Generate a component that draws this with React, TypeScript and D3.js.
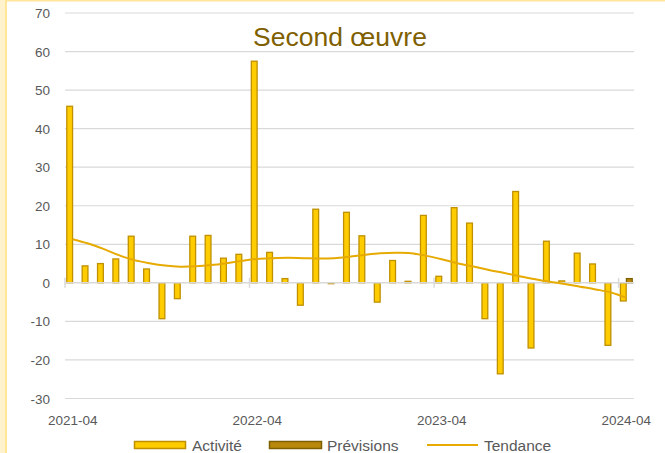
import React, { useRef, useEffect } from "react";
import * as d3 from "d3";

const months = [
  "2021-04", "2021-05", "2021-06", "2021-07", "2021-08", "2021-09", "2021-10", "2021-11", "2021-12",
  "2022-01", "2022-02", "2022-03", "2022-04", "2022-05", "2022-06", "2022-07", "2022-08", "2022-09",
  "2022-10", "2022-11", "2022-12", "2023-01", "2023-02", "2023-03", "2023-04", "2023-05", "2023-06",
  "2023-07", "2023-08", "2023-09", "2023-10", "2023-11", "2023-12", "2024-01", "2024-02", "2024-03",
  "2024-04",
];

// monthly activity (%)
const activite = [
  45.8, 4.4, 5.0, 6.2, 12.1, 3.6, -9.3, -4.1, 12.1, 12.3, 6.4, 7.4,
  57.5, 7.9, 1.1, -5.8, 19.1, -0.2, 18.3, 12.2, -5.0, 5.8, 0.4, 17.5,
  1.7, 19.5, 15.5, -9.3, -23.6, 23.7, -16.9, 10.8, 0.5, 7.7, 4.9, -16.2,
  -4.7,
];

// only the last month has a forecast
const previsions: (number | null)[] = months.map((_, i) => (i === 36 ? 1.1 : null));

const tendance = [
  11.3, 10.2, 8.8, 7.2, 5.9, 5.1, 4.5, 4.2, 4.3, 4.6, 5.1, 5.7,
  6.2, 6.4, 6.5, 6.4, 6.3, 6.4, 6.8, 7.3, 7.7, 7.8, 7.7, 7.0,
  6.1, 5.1, 4.3, 3.4, 2.6, 1.8, 1.0, 0.3, -0.3, -1.0, -1.7, -2.5,
  -3.9,
];

const yTicks = [-30, -20, -10, 0, 10, 20, 30, 40, 50, 60, 70];
const xLabels = ["2021-04", "2022-04", "2023-04", "2024-04"];

const W = 665;
const H = 453;
const font = "'Liberation Sans', Arial, sans-serif";

const App = () => {
  const svgRef = useRef<SVGSVGElement>(null);

  useEffect(() => {
    const svg = d3.select(svgRef.current);
    svg.selectAll("*").remove();

    const left = 65, right = 634, top = 13, bottom = 398.5;

    const x = d3.scaleBand().domain(months).range([left, right]).padding(0);
    const sub = d3
      .scaleBand()
      .domain(["a", "p"])
      .range([x.bandwidth() * 0.1, x.bandwidth() * 0.9])
      .padding(0.04);
    const y = d3.scaleLinear().domain([-30, 70]).range([bottom, top]);

    // frame
    svg.append("rect").attr("x", 0).attr("y", 0).attr("width", W).attr("height", H).attr("fill", "#fff");
    svg.append("rect").attr("x", 0).attr("y", 0).attr("width", 6).attr("height", H).attr("fill", "#FFF2CC");
    svg.append("line").attr("x1", 6).attr("x2", 6).attr("y1", 0).attr("y2", H)
      .attr("stroke", "#FFE699").attr("stroke-width", 2);
    svg.append("line").attr("x1", 6).attr("x2", W).attr("y1", 0.5).attr("y2", 0.5)
      .attr("stroke", "#FFE699").attr("stroke-width", 2);

    // gridlines + y labels
    const grid = svg.append("g");
    grid.selectAll("line").data(yTicks.filter((d) => d !== 0)).join("line")
      .attr("x1", left).attr("x2", right)
      .attr("y1", (d) => y(d)).attr("y2", (d) => y(d))
      .attr("stroke", "#D9D9D9").attr("stroke-width", 1.2);
    svg.append("g").selectAll("text").data(yTicks).join("text")
      .attr("x", 50).attr("y", (d) => y(d) + 5)
      .attr("text-anchor", "end")
      .attr("font-family", font).attr("font-size", 13.5).attr("fill", "#595959")
      .text((d) => d);

    // title
    svg.append("text").attr("x", 340).attr("y", 46)
      .attr("text-anchor", "middle").attr("font-family", font).attr("font-size", 26.5)
      .attr("fill", "#7F6000").text("Second œuvre");

    // bars
    const bars = svg.append("g");
    bars.selectAll("rect.a").data(activite).join("rect")
      .attr("class", "a")
      .attr("x", (_, i) => (x(months[i]) as number) + (sub("a") as number))
      .attr("width", sub.bandwidth())
      .attr("y", (d) => y(Math.max(0, d)))
      .attr("height", (d) => Math.max(0.8, Math.abs(y(d) - y(0))))
      .attr("fill", "#FFCC00").attr("stroke", "#BF9000").attr("stroke-width", 1.3);
    bars.selectAll("rect.p").data(previsions.map((v, i) => ({ v, i })).filter((d) => d.v !== null)).join("rect")
      .attr("class", "p")
      .attr("x", (d) => (x(months[d.i]) as number) + (sub("p") as number))
      .attr("width", sub.bandwidth())
      .attr("y", (d) => y(Math.max(0, d.v as number)))
      .attr("height", (d) => Math.abs(y(d.v as number) - y(0)))
      .attr("fill", "#B8890A").attr("stroke", "#7F6000").attr("stroke-width", 1.3);

    // zero axis with cross ticks
    svg.append("line").attr("x1", left).attr("x2", right).attr("y1", y(0)).attr("y2", y(0))
      .attr("stroke", "#D9D9D9").attr("stroke-width", 1.5);
    svg.append("g").selectAll("line").data(xLabels).join("line")
      .attr("x1", (d) => x(d) as number).attr("x2", (d) => x(d) as number)
      .attr("y1", y(0) - 5).attr("y2", y(0) + 5)
      .attr("stroke", "#D9D9D9").attr("stroke-width", 1.5);

    // trend
    const trend = d3.line<number>()
      .x((_, i) => (x(months[i]) as number) + x.bandwidth() / 2)
      .y((d) => y(d))
      .curve(d3.curveCatmullRom);
    svg.append("path").datum(tendance).attr("d", trend)
      .attr("fill", "none").attr("stroke", "#E6AA00").attr("stroke-width", 2);

    // x labels
    svg.append("g").selectAll("text").data(xLabels).join("text")
      .attr("x", (d) => (x(d) as number) + x.bandwidth() / 2)
      .attr("y", 425)
      .attr("text-anchor", "middle").attr("font-family", font).attr("font-size", 13.5)
      .attr("fill", "#595959").text((d) => d);

    // legend
    const lg = svg.append("g").attr("font-family", font).attr("font-size", 15.5).attr("fill", "#595959");
    lg.append("rect").attr("x", 134.5).attr("y", 441.5).attr("width", 51).attr("height", 7)
      .attr("fill", "#FFCC00").attr("stroke", "#BF9000").attr("stroke-width", 1.5);
    lg.append("text").attr("x", 192).attr("y", 451).text("Activité");
    lg.append("rect").attr("x", 269.5).attr("y", 441.5).attr("width", 52).attr("height", 7)
      .attr("fill", "#B8890A").attr("stroke", "#7F6000").attr("stroke-width", 1.5);
    lg.append("text").attr("x", 327).attr("y", 451).text("Prévisions");
    lg.append("line").attr("x1", 427).attr("x2", 478).attr("y1", 445).attr("y2", 445)
      .attr("stroke", "#E6AA00").attr("stroke-width", 2);
    lg.append("text").attr("x", 484).attr("y", 451).text("Tendance");
  }, []);

  return (
    <svg
      ref={svgRef}
      width={W}
      height={H}
      style={{ position: "absolute", left: 0, top: 0, display: "block" }}
    />
  );
};

export default App;
